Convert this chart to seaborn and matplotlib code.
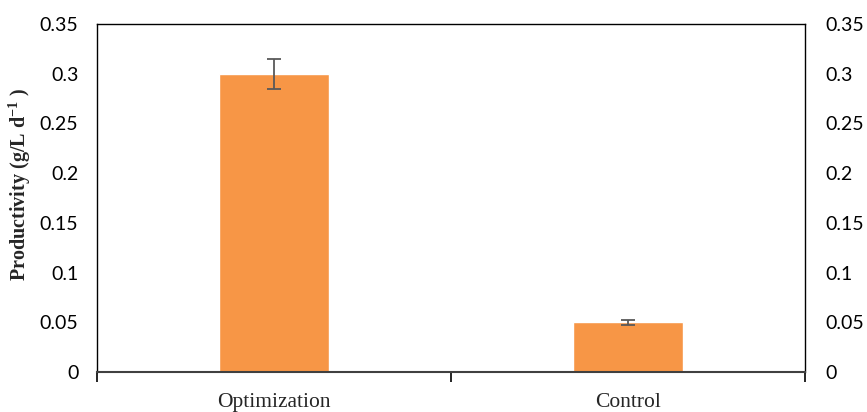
import matplotlib
matplotlib.use("Agg")
import matplotlib.pyplot as plt
import seaborn as sns
import pandas as pd
import numpy as np

categories = ["Optimization", "Control"]
values = [0.300, 0.050]
errors = [0.015, 0.0027]
yticks = [0, 0.05, 0.1, 0.15, 0.2, 0.25, 0.3, 0.35]
ytick_labels = ["0", "0.05", "0.1", "0.15", "0.2", "0.25", "0.3", "0.35"]

sns.set_theme(style="white")
plt.rcParams["font.family"] = ["Lato", "DejaVu Sans"]
plt.rcParams["mathtext.fontset"] = "custom"
plt.rcParams["mathtext.rm"] = "Liberation Serif:bold"
plt.rcParams["mathtext.it"] = "Liberation Serif:bold"
plt.rcParams["mathtext.bf"] = "Liberation Serif:bold"

df = pd.DataFrame({"cat": categories, "val": values})

fig = plt.figure(figsize=(8.67, 4.12), dpi=100)
ax = fig.add_axes([97/867, 1-372/412, (805-97)/867, (372-24)/412])
sns.barplot(data=df, x="cat", y="val", color="#F79646", saturation=1,
            width=0.31, errorbar=None, ax=ax)
ax.errorbar(x=np.arange(len(categories)), y=values, yerr=errors, fmt="none",
            ecolor="#595959", elinewidth=1.3, capsize=5, capthick=1.3)

ax.set_xlim(-0.5, 1.5)
ax.set_ylim(0, 0.35)
ax.set_yticks(yticks)
ax.set_yticklabels(ytick_labels)
ax.tick_params(axis="y", length=0, pad=13.5, labelsize=14, colors="#000000")
ax.set_xticks([0, 1])
ax.set_xticklabels(categories, fontfamily="Liberation Serif", fontsize=15.5)
ax.tick_params(axis="x", which="major", length=0, pad=15)
ax.set_xticks([-0.5, 0.5, 1.5], minor=True)
ax.tick_params(axis="x", which="minor", length=7, width=1.2, color="#000000",
               direction="out", bottom=True)
ax.set_xlabel("")
ax.set_ylabel("Productivity (g/L d$^{-1}$ )", fontfamily="Liberation Serif",
              fontweight="bold", fontsize=14.5)
ax.yaxis.set_label_coords(-0.090, 0.54)

for side in ["left", "top", "right"]:
    ax.spines[side].set_visible(True)
    ax.spines[side].set_color("#000000")
    ax.spines[side].set_linewidth(1.0)
ax.spines["bottom"].set_color("#404040")
ax.spines["bottom"].set_linewidth(1.5)

ax2 = ax.twinx()
ax2.set_ylim(0, 0.35)
ax2.set_yticks(yticks)
ax2.set_yticklabels(ytick_labels)
ax2.tick_params(axis="y", length=0, pad=14.4, labelsize=14, colors="#000000")
for s in ax2.spines.values():
    s.set_visible(False)

fig.savefig("out.png", dpi=100)
